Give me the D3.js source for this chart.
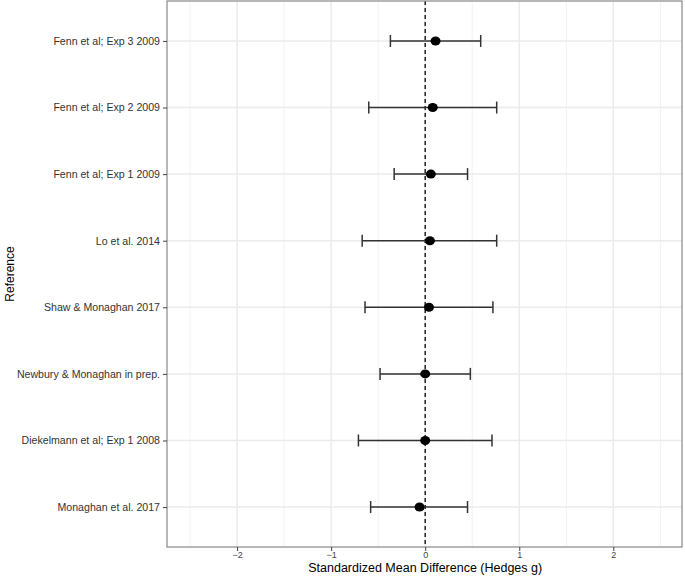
<!DOCTYPE html>
<html><head><meta charset="utf-8">
<script src="https://cdn.jsdelivr.net/npm/d3@7"></script>
<style>body{margin:0;background:#fff}svg{display:block}text{font-family:"Liberation Sans",Arial,Helvetica,sans-serif}</style>
</head><body>
<svg id="c" width="685" height="576"></svg>
<script>
const studies = ["Fenn et al; Exp 3 2009","Fenn et al; Exp 2 2009","Fenn et al; Exp 1 2009","Lo et al. 2014","Shaw & Monaghan 2017","Newbury & Monaghan in prep.","Diekelmann et al; Exp 1 2008","Monaghan et al. 2017"];
const effect = [0.11, 0.08, 0.06, 0.05, 0.04, 0.00, 0.00, -0.06];
const lower  = [-0.37, -0.60, -0.33, -0.67, -0.64, -0.48, -0.71, -0.58];
const upper  = [0.59, 0.76, 0.45, 0.76, 0.72, 0.48, 0.71, 0.45];
const xTicks = [-2, -1, 0, 1, 2];
const xMinor = [-2.5, -1.5, -0.5, 0.5, 1.5, 2.5];

const svg = d3.select("#c");
const L = 167, R = 682, T = 1, B = 547;
const x = d3.scaleLinear().domain([-2.745, 2.73]).range([L, R]);
const y = d3.scalePoint().domain(studies).range([T, B]).padding(0.6);

svg.append("rect").attr("x", L).attr("y", T).attr("width", R - L).attr("height", B - T).attr("fill", "#fff");
const g = svg.append("g");
g.selectAll(".mi").data(xMinor).join("line").attr("x1", d => x(d)).attr("x2", d => x(d)).attr("y1", T).attr("y2", B).attr("stroke", "#f2f2f2").attr("stroke-width", 1);
g.selectAll(".ma").data(xTicks).join("line").attr("x1", d => x(d)).attr("x2", d => x(d)).attr("y1", T).attr("y2", B).attr("stroke", "#ebebeb").attr("stroke-width", 1.5);
g.selectAll(".hy").data(studies).join("line").attr("x1", L).attr("x2", R).attr("y1", d => y(d)).attr("y2", d => y(d)).attr("stroke", "#ebebeb").attr("stroke-width", 1.5);

// dashed zero line
svg.append("line").attr("x1", x(0)).attr("x2", x(0)).attr("y1", T).attr("y2", B).attr("stroke", "#222").attr("stroke-width", 1.5).attr("stroke-dasharray", "4,3");

const rows = studies.map((s, i) => ({s, e: effect[i], lo: lower[i], hi: upper[i]}));
const eb = svg.append("g").attr("stroke", "#333").attr("stroke-width", 1.5);
eb.selectAll(".h").data(rows).join("line").attr("x1", d => x(d.lo)).attr("x2", d => x(d.hi)).attr("y1", d => y(d.s)).attr("y2", d => y(d.s));
eb.selectAll(".cl").data(rows).join("line").attr("x1", d => x(d.lo)).attr("x2", d => x(d.lo)).attr("y1", d => y(d.s) - 6).attr("y2", d => y(d.s) + 6);
eb.selectAll(".cr").data(rows).join("line").attr("x1", d => x(d.hi)).attr("x2", d => x(d.hi)).attr("y1", d => y(d.s) - 6).attr("y2", d => y(d.s) + 6);
svg.append("g").selectAll("ellipse").data(rows).join("ellipse").attr("cx", d => x(d.e)).attr("cy", d => y(d.s)).attr("rx", 5).attr("ry", 4.5).attr("fill", "#000");

// border
svg.append("rect").attr("x", L).attr("y", T).attr("width", R - L).attr("height", B - T).attr("fill", "none").attr("stroke", "#888").attr("stroke-width", 1.2);

// axes
const xa = svg.append("g").attr("transform", `translate(0,${B})`).call(d3.axisBottom(x).tickValues(xTicks).tickSize(4).tickPadding(1).tickFormat(d3.format("d")));
xa.select(".domain").remove();
xa.selectAll("line").attr("stroke", "#444");
xa.selectAll("text").attr("font-size", 9).attr("fill", "#444").attr("font-family", '"Liberation Sans",Arial,sans-serif');
const ya = svg.append("g").attr("transform", `translate(${L},0)`).call(d3.axisLeft(y).tickSize(4).tickPadding(3));
ya.select(".domain").remove();
ya.selectAll("line").attr("stroke", "#444");
ya.selectAll("text").attr("font-size", 10.6).attr("fill", "#333").attr("font-family", '"Liberation Sans",Arial,sans-serif');

svg.append("text").attr("x", x(0)).attr("y", 572).attr("text-anchor", "middle").attr("font-size", 12.5).attr("fill", "#000").text("Standardized Mean Difference (Hedges g)");
svg.append("text").attr("transform", `translate(14,${(T + B) / 2}) rotate(-90)`).attr("text-anchor", "middle").attr("font-size", 12).attr("fill", "#000").text("Reference");
</script>
</body></html>
